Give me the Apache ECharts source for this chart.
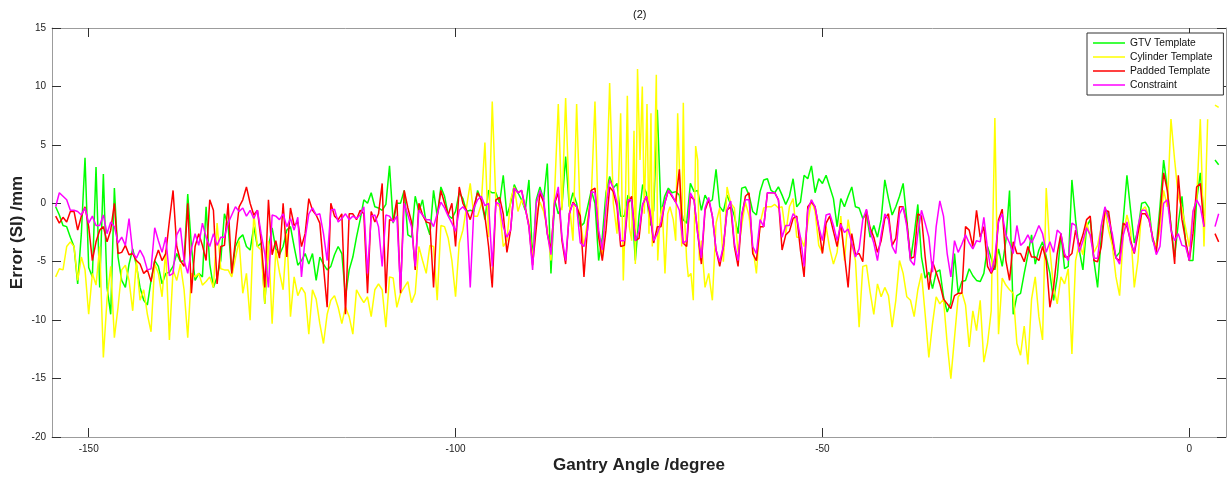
<!DOCTYPE html>
<html>
<head>
<meta charset="utf-8">
<script src="https://cdn.jsdelivr.net/npm/echarts@6/dist/echarts.min.js"></script>
<style>
html,body{margin:0;padding:0;background:#fff;}
#chart{width:1231px;height:479px;}
</style>
</head>
<body>
<div id="chart"></div>
<script>
// Gantry angle sampling (degrees): first angle and spacing of the regular grid
const angleStart = -154.5;
const angleStep = 0.5;

// Error (SI) in mm per gantry angle; null = no measurement
const gtvTemplate = [
  -0.3,-1.0,-1.9,-2.0,-2.9,-3.7,-6.9,-2.6,3.9,-5.5,-6.3,3.1,-7.2,2.5,-7.2,-9.5,1.3,-4.6,-6.6,-7.2,
  -5.2,-3.9,-5.3,-7.2,-8.3,-8.7,-6.6,-4.9,-5.4,-6.9,-6.0,-5.9,-5.4,-4.3,-5.0,-4.9,0.8,-3.7,-6.6,-6.0,
  -6.3,-0.3,-5.2,-7.2,-6.3,-4.9,-0.9,-1.9,-6.0,-3.7,-3.0,-2.7,-3.7,-4.0,-2.0,-3.7,-3.4,-8.6,-3.7,-2.1,
  -3.9,-4.4,-3.7,-2.3,-2.0,-3.7,-5.3,-4.9,-4.3,-5.2,-4.3,-6.6,-4.6,-5.2,-5.7,-5.4,-4.4,-3.7,-4.3,-8.0,
  -5.7,-4.6,-2.9,-1.4,0.3,0.0,0.9,-0.3,-0.4,-0.6,-0.1,3.2,-1.7,0.0,0.0,1.1,-2.7,-2.9,0.6,-0.7,
  0.3,-1.7,-2.7,1.1,-1.1,1.4,0.6,-1.0,-1.3,-0.7,0.9,0.4,-0.7,-0.6,-0.7,1.1,0.3,-1.4,1.1,0.9,
  0.9,0.0,2.4,-1.1,0.0,1.6,0.9,0.3,-0.6,2.0,-4.9,0.3,1.4,0.3,3.4,-6.0,0.3,-0.9,-0.3,4.0,
  -0.3,0.9,0.0,-2.0,-1.7,-0.3,1.1,0.0,-4.9,-2.9,0.9,2.3,1.3,1.7,-1.1,-1.1,0.7,0.1,-4.9,-1.1,
  1.6,0.9,-1.9,-0.6,8.0,-0.9,0.6,1.3,0.9,1.0,0.7,-1.4,-1.7,1.7,1.0,1.1,-0.6,0.7,0.1,0.3,
  2.9,-0.3,-0.7,0.7,-0.1,-1.1,-2.6,1.3,1.4,0.7,-0.7,-1.0,1.0,2.0,2.1,1.1,0.9,1.4,0.7,
  -0.1,0.6,2.1,-0.3,0.1,2.4,2.1,3.2,0.9,2.1,1.7,2.4,1.4,0.4,-2.0,0.4,-0.3,0.6,1.4,-0.3,
  -0.4,-1.3,-0.9,-2.9,-1.9,-2.9,-1.4,2.0,0.4,-1.0,-0.3,0.6,1.7,-1.4,-4.9,-2.7,-0.1,-4.6,-6.4,-5.9,
  -7.3,-5.9,-5.7,-8.0,-9.3,-8.5,-4.3,-7.7,-6.7,-6.6,-5.6,-6.2,-6.6,-6.7,-6.0,-3.7,-4.7,-5.7,-3.9,-5.4,
  -3.2,1.1,-9.5,-7.9,-7.7,-6.0,-4.4,-2.7,-5.2,-4.0,-3.3,-4.6,-6.0,-8.3,-6.3,-2.6,-5.6,-5.4,2.0,
  -1.4,-4.0,-5.7,-2.0,-1.4,-4.9,-7.2,-2.9,-0.4,-1.1,-3.3,-4.6,-4.2,-1.4,2.4,-0.6,-3.4,-2.3,0.0,0.1,
  -0.4,-3.2,-3.7,-0.3,3.7,1.3,-2.0,-4.6,-1.7,0.6,-3.4,-4.9,-4.9,0.3,2.6,-1.1,
  null,null,3.7,3.3
];

const cylinderTemplate = [
  -6.3,-5.6,-5.7,-3.7,-3.3,-3.7,-6.6,-4.6,-5.7,-9.5,-6.0,-7.0,-3.7,-13.2,-8.2,-5.4,-11.5,-8.9,-5.7,-5.3,
  -6.6,-9.2,-4.9,-8.3,-7.4,-9.5,-11.0,-5.2,-6.0,-8.0,-4.0,-11.7,-5.7,-6.6,-5.2,-7.4,-11.5,-6.0,-6.3,-6.0,
  -7.0,-6.7,-6.3,-7.2,-1.7,-5.6,-5.7,-5.7,-6.3,-4.7,-3.2,-7.7,-6.0,-10.0,-0.9,-3.7,-4.0,-8.6,-3.2,-10.3,
  -4.0,-5.9,-7.4,-2.6,-9.7,-6.3,-7.9,-7.2,-7.7,-11.2,-7.4,-8.2,-10.3,-12.0,-9.5,-8.3,-7.9,-8.9,-10.3,-8.9,
  -9.7,-11.2,-7.4,-8.0,-8.5,-8.0,-9.7,-7.4,-6.9,-7.4,-10.6,-6.3,-6.4,-8.9,-7.7,-7.2,-6.7,-8.5,-7.7,-3.7,
  -4.9,-6.0,-3.6,-3.7,-8.3,-1.9,-2.0,-3.0,-4.9,-8.0,-3.4,-2.3,-0.3,1.7,-1.1,-1.1,-0.1,5.2,-2.9,8.7,
  0.0,-0.3,-3.7,-3.2,0.3,1.4,-0.7,0.3,-0.4,-1.7,-4.9,-0.9,0.1,-0.7,-2.1,-4.9,0.9,8.5,-0.6,9.0,
  0.0,-3.2,8.5,-1.4,-3.7,-1.4,0.6,8.7,-2.6,-4.6,-0.6,10.3,0.0,-2.6,7.7,-6.6,9.2,-3.2,6.2,11.5,
  10.0,8.5,-2.6,2.3,-4.9,-1.4,-6.0,-0.9,-1.1,-3.2,1.4,8.6,-4.9,-6.0,-8.3,3.7,-3.2,-7.2,-6.0,-8.3,
  -1.7,-0.4,-5.0,1.4,0.0,-0.4,-4.2,-1.9,0.1,-1.1,-3.7,-6.0,-1.7,-0.4,-0.3,-0.3,-0.1,-0.4,-0.3,
  -2.6,-0.3,0.4,-2.9,-2.9,-3.7,-1.7,0.3,-0.7,-3.6,-4.2,-2.0,-3.9,-5.2,-4.2,-1.1,-4.9,-1.4,-3.4,-4.9,
  -10.6,-5.4,-5.3,-7.6,-9.5,-6.9,-8.0,-7.2,-7.9,-10.6,-8.3,-4.9,-6.0,-8.0,-8.3,-9.7,-7.4,-6.0,-9.5,-13.2,
  -10.3,-8.0,-8.6,-8.2,-12.0,-15.0,-11.5,-8.0,-7.6,-8.7,-12.3,-9.2,-10.9,-8.3,-13.6,-12.0,-9.2,7.3,-11.2,-6.4,
  -7.0,-7.4,-7.7,-12.0,-13.0,-10.5,-13.8,-8.2,-6.3,-9.7,-11.7,1.3,-4.0,-7.2,-8.6,-6.3,-6.9,-5.6,-12.9,
  -4.9,-3.4,-4.4,-1.6,-2.9,-4.2,-3.6,-2.0,-0.6,-2.3,-3.6,-6.3,-7.9,-2.7,-1.0,-2.3,-7.2,-4.9,-0.6,-0.3,
  -1.2,-3.0,-3.7,-2.3,1.1,-0.3,7.2,3.7,0.6,-0.4,-2.1,-3.7,-0.7,0.3,7.2,-3.7,
  7.2,null,8.4,8.2
];

// Finer cylinder-template samples through the dense spikes near -77..-67 degrees
const cylinderDetail = [
  [-77.14,-6.6],[-76.91,-2.0],[-76.59,9.2],[-76.32,-2.0],[-76.0,-3.2],[-75.68,6.2],[-75.5,-5.2],
  [-75.2,11.5],[-74.86,3.7],[-74.55,10.0],[-74.28,-0.9],[-73.91,8.5],[-73.64,-2.6],[-73.37,7.7],
  [-73.19,-3.7],[-72.92,2.3],[-72.64,11.0],[-72.45,-4.9],[-72.14,-1.4],[-71.83,-0.3],[-71.46,-6.0],
  [-71.09,-0.9],[-70.78,-0.3],[-70.33,-1.4],[-70.0,-3.2],[-69.73,7.7],[-69.41,1.4],[-69.18,-3.7],
  [-68.96,8.6],[-68.73,-2.0],[-68.5,-4.9],[-68.28,-6.3],[-67.92,-6.0],[-67.6,-8.3],[-67.28,4.9],
  [-67.0,3.7],[-66.78,-4.9]
];

const paddedTemplate = [
  -1.1,-1.7,-1.2,-1.6,-0.7,-0.7,-2.3,-1.1,-0.3,-2.0,-4.9,-3.3,-2.3,-2.0,-3.3,-2.3,0.0,-4.3,-4.2,-3.6,
  -4.4,-4.3,-4.9,-5.2,-6.0,-5.7,-6.7,-4.9,-4.0,-4.9,-4.3,-1.5,1.1,-3.7,-4.9,-5.4,0.0,-7.7,-3.7,-2.6,
  -3.6,-4.9,0.3,-0.6,-6.9,-3.7,-3.6,0.0,-6.0,-3.2,-0.3,0.3,1.4,0.0,-1.0,-0.6,-3.2,-7.2,0.3,-4.4,
  -3.2,-4.7,0.0,-4.6,-0.4,-1.9,-1.6,-3.7,-2.6,0.4,-0.6,-1.0,-1.7,-5.4,-8.9,0.0,-1.1,-1.4,-0.9,-9.5,
  -0.9,-0.9,-1.4,-0.6,-0.9,-7.7,-0.7,-1.6,-0.9,1.7,-7.7,-1.4,-1.5,0.3,-7.7,1.1,-0.4,-1.6,-5.7,0.0,
  -1.0,-1.6,-1.7,-7.2,-1.1,1.1,0.0,-1.0,0.0,-3.7,1.4,0.0,-0.6,-1.4,-0.3,0.9,0.3,-1.1,-3.7,-7.2,
  0.3,0.5,-0.9,-4.2,-2.3,1.3,0.9,1.1,-0.4,-2.0,-5.3,-2.1,0.9,0.1,-2.6,-4.0,0.0,0.9,-3.2,-5.2,
  -0.9,0.1,-0.3,-1.1,-6.3,-1.9,1.1,1.3,-2.9,-4.9,-2.3,1.4,1.0,-0.3,-3.7,-3.6,0.0,0.6,-3.2,-3.0,
  -0.1,0.6,-0.9,-3.4,-2.0,-2.0,0.0,1.1,0.6,0.1,2.9,-3.4,-3.7,0.6,0.3,-2.6,-5.2,-0.6,0.3,-1.1,
  -4.0,-5.4,-3.7,-0.6,-0.3,-3.7,-5.4,-1.1,0.6,0.9,-4.3,-4.9,-2.0,-2.0,0.9,0.9,0.9,0.3,-4.0,
  -2.7,-2.4,-1.3,-1.1,-4.0,-6.3,-0.3,0.1,-0.3,-2.1,-4.3,-1.7,-1.1,-2.4,-3.7,-1.7,-4.4,-7.2,-2.6,-4.4,
  -4.3,-5.0,-0.6,-2.1,-2.9,-4.2,-3.2,-1.3,-0.9,-3.6,-3.0,-0.3,-0.3,-1.7,-4.7,-4.6,-0.9,-1.1,-4.6,-7.4,
  -5.0,-5.9,-6.9,-8.2,-8.6,-9.0,-7.9,-7.7,-7.7,-2.0,-2.3,-3.7,-0.6,-2.9,-2.0,-5.4,-6.0,-5.4,-1.4,-0.5,
  -4.9,-6.6,-3.3,-4.3,-4.3,-5.0,-3.7,-4.6,-4.6,-4.9,-3.7,-4.9,-8.9,-7.2,-4.3,-2.6,-4.6,-4.6,-4.3,
  -2.3,-3.7,-2.7,-1.4,-1.1,-4.9,-5.0,-3.7,-0.6,-0.7,-3.0,-4.7,-4.9,-1.7,-2.0,-3.2,-4.3,-2.6,-0.9,-0.9,
  -1.4,-2.9,-4.2,-1.1,2.6,1.1,-2.0,-5.2,2.4,-1.4,-3.2,-4.9,-2.6,1.4,1.7,-2.0,
  null,null,-2.6,-3.3
];

const constraint = [
  -0.3,0.9,0.6,0.3,-0.6,-0.6,-0.7,-1.0,-0.4,-1.7,-1.1,-1.9,-1.9,-1.0,-2.6,-1.6,-2.0,-3.4,-2.9,-3.6,
  -1.3,-4.2,-4.7,-4.0,-4.6,-5.7,-5.6,-2.1,-3.2,-4.2,-2.9,-6.2,-6.0,-2.7,-2.1,-4.9,-6.0,-3.9,-2.6,-3.6,
  -1.7,-2.9,-3.7,-2.6,-3.6,-2.9,-2.9,-1.7,-1.0,-0.3,-0.7,-0.4,-1.1,-0.6,-1.3,-0.6,-2.6,-4.3,-7.2,-1.0,
  -1.1,-1.4,-0.9,-2.0,-1.3,-2.3,-1.2,-6.3,-3.0,-0.9,-0.4,-1.0,-0.9,-2.6,-4.9,-0.6,-0.5,-1.6,-1.3,-0.9,
  -1.4,-1.1,-1.3,-1.0,-0.3,-6.0,-1.1,-1.0,-2.0,-5.4,-1.0,-1.1,-1.6,-1.1,-7.4,0.0,-1.0,-2.0,-5.4,-0.6,
  -1.0,-1.4,-1.4,-2.0,-0.9,0.1,-0.4,-1.1,-1.7,-2.4,-0.6,-0.3,-0.7,-7.2,-0.4,0.3,0.6,-0.2,0.0,-5.4,
  0.1,-0.1,-2.0,-2.9,-2.3,1.3,0.9,1.1,-0.4,-2.0,-5.7,0.0,1.1,0.4,-2.6,-4.4,0.1,1.4,-2.9,-4.9,
  -0.9,0.0,-0.3,-3.4,-3.7,-2.3,1.0,0.9,-2.3,-4.0,-0.3,2.0,1.3,0.1,-3.2,-3.2,0.3,0.3,-3.2,-2.4,
  -0.1,0.6,-0.6,-3.2,-2.6,-1.6,0.0,1.1,0.7,0.1,-0.6,-3.4,-3.2,0.9,0.3,-2.6,-4.7,-0.4,0.5,-1.1,
  -4.0,-5.0,-3.7,-0.6,0.2,-3.4,-4.9,-0.9,0.3,0.3,-3.7,-4.3,-1.4,-2.0,0.9,0.9,0.9,0.3,-2.9,
  -1.9,-1.9,-0.9,-1.3,-2.9,-5.4,-0.6,0.3,-0.3,-2.0,-3.2,-1.0,-0.9,-1.9,-3.2,-1.8,-2.5,-2.2,-3.4,-4.6,
  -3.9,-1.4,-0.5,-2.4,-3.4,-4.9,-2.7,-0.9,-1.4,-3.7,-4.3,-0.9,-0.3,-2.0,-4.9,-5.3,-2.6,-0.6,-1.7,-2.9,
  -5.9,-2.0,0.2,-1.1,-4.3,-6.3,-3.2,-4.2,-3.5,-2.7,-3.4,-3.9,-3.2,-3.3,-1.2,-3.9,-5.9,-4.6,-1.6,-0.9,
  -2.7,-3.4,-4.3,-1.9,-3.6,-3.3,-2.7,-3.4,-2.7,-1.9,-2.6,-4.2,-3.3,-4.2,-2.3,-2.6,-4.3,-4.9,-1.7,
  -1.9,-4.2,-3.2,-2.1,-2.7,-4.7,-4.7,-1.9,-0.3,-1.4,-2.6,-4.6,-5.2,-2.7,-1.6,-3.4,-4.2,-2.0,-0.6,-0.6,
  -1.3,-3.0,-4.4,-3.7,0.0,0.3,-2.3,-3.2,-2.6,-3.6,-3.7,-4.9,-0.7,0.3,-0.3,-2.0,
  null,null,-2.0,-0.9
];

const seriesNames = ['GTV Template', 'Cylinder Template', 'Padded Template', 'Constraint'];
const seriesColors = ['#00ff00', '#ffff00', '#ff0000', '#ff00ff'];
const xTickValues = [-150, -100, -50, 0];

// Regular-grid values -> [angle, value] pairs for a value x axis
function toPairs(values) {
  return values.map((v, i) => [+(angleStart + i * angleStep).toFixed(2), v === null ? '-' : v]);
}
// Replace the grid samples covered by a finer run of samples
function withDetail(values, detail) {
  const lo = detail[0][0], hi = detail[detail.length - 1][0];
  return toPairs(values)
    .filter(p => p[0] < lo || p[0] > hi)
    .concat(detail)
    .sort((a, b) => a[0] - b[0]);
}

const seriesData = [
  toPairs(gtvTemplate),
  withDetail(cylinderTemplate, cylinderDetail),
  toPairs(paddedTemplate),
  toPairs(constraint)
];

const font = 'Liberation Sans, Arial, Helvetica, sans-serif';
const frameColor = '#9c9c9c';
const tickColor = '#303030';

function frameAxis(extra) {
  return Object.assign({
    type: 'value',
    axisLine: { show: true, onZero: false, lineStyle: { color: frameColor, width: 1 } },
    axisTick: { show: true, inside: true, length: 9, lineStyle: { color: tickColor, width: 1 } },
    splitLine: { show: false },
    axisLabel: { show: false }
  }, extra);
}

const chart = echarts.init(document.getElementById('chart'), null, { renderer: 'canvas' });

chart.setOption({
  animation: false,
  backgroundColor: '#ffffff',
  title: {
    text: '(2)',
    left: 633,
    top: 9,
    padding: 0,
    textStyle: { fontSize: 11, fontWeight: 'normal', color: '#111', fontFamily: font }
  },
  legend: {
    data: seriesNames,
    orient: 'vertical',
    left: 1087,
    top: 33,
    icon: 'rect',
    itemWidth: 32,
    itemHeight: 1.5,
    itemGap: 2,
    padding: [4, 11, 4, 6],
    backgroundColor: '#ffffff',
    borderColor: '#333333',
    borderWidth: 1,
    borderRadius: 0,
    textStyle: { fontSize: 10.3, lineHeight: 12, color: '#111', fontFamily: font }
  },
  grid: { left: 52, right: 5, top: 28, bottom: 42, containLabel: false, outerBoundsMode: 'none' },
  xAxis: [
    frameAxis({
      min: -155, max: 5, position: 'bottom',
      axisTick: { show: true, inside: true, length: 9, customValues: xTickValues, lineStyle: { color: tickColor } },
      axisLabel: { show: true, customValues: xTickValues, margin: 7, fontSize: 10, color: '#222', fontFamily: font },
      name: 'Gantry Angle /degree', nameLocation: 'middle', nameGap: 20, nameMoveOverlap: false,
      nameTextStyle: { fontSize: 17, fontWeight: 'bold', color: '#222', fontFamily: font }
    }),
    frameAxis({
      min: -155, max: 5, position: 'top',
      axisTick: { show: true, inside: true, length: 9, customValues: xTickValues, lineStyle: { color: tickColor } }
    })
  ],
  yAxis: [
    frameAxis({
      min: -20, max: 15, interval: 5, position: 'left',
      axisLabel: { show: true, margin: 6, fontSize: 10, color: '#222', fontFamily: font },
      name: 'Error (SI) /mm', nameLocation: 'middle', nameGap: 26, nameMoveOverlap: false,
      nameTextStyle: { fontSize: 17, fontWeight: 'bold', color: '#222', fontFamily: font }
    }),
    frameAxis({ min: -20, max: 15, interval: 5, position: 'right' })
  ],
  series: seriesNames.map((name, k) => ({
    name: name,
    type: 'line',
    xAxisIndex: 0,
    yAxisIndex: 0,
    data: seriesData[k],
    showSymbol: false,
    symbol: 'none',
    connectNulls: false,
    clip: true,
    z: 2 + k,
    lineStyle: { width: 1.5, color: seriesColors[k] },
    itemStyle: { color: seriesColors[k] }
  }))
});
</script>
</body>
</html>
